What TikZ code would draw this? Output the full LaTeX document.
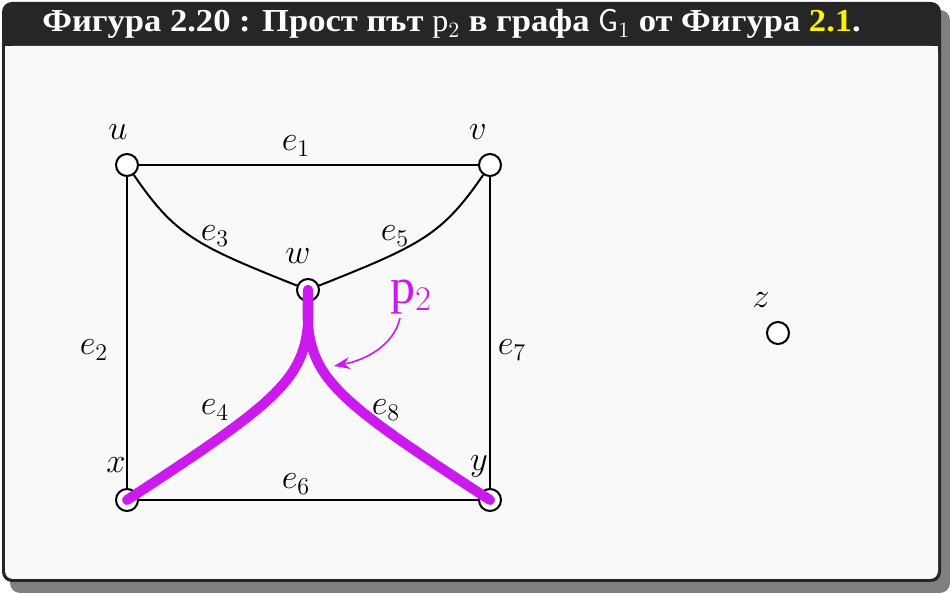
\documentclass[tikz,border=0pt]{standalone}
\usepackage{fontspec}
\setmainfont{Liberation Serif}
\newfontfamily\titlefont{Liberation Serif}[FakeStretch=1.08]
\usepackage{tikz}
\usetikzlibrary{arrows.meta,positioning,calc}
\definecolor{pathcol}{RGB}{204,26,238}
\definecolor{titlebg}{RGB}{38,38,38}
\definecolor{bodybg}{RGB}{249,249,249}
\definecolor{shadowcol}{RGB}{128,128,128}

\begin{document}
\begin{tikzpicture}[
    x=0.5pt, y=-0.5pt,
    vertex/.style={draw, circle, fill=white, line width=1pt, minimum size=11pt, inner sep=0pt},
    edge/.style={line width=1pt},
    pathedge/.style={line width=5pt, pathcol, line cap=round},
    vlabel/.style={font=\fontsize{18}{21}\selectfont},
    elabel/.style={font=\fontsize{17}{20}\selectfont}
]
    \useasboundingbox (0,0) rectangle (950,593);
    % frame with shadow
    \fill[shadowcol, rounded corners=5pt] (10,10) rectangle (950,593);
    \fill[titlebg, rounded corners=5pt] (2,2) rectangle (941,582);
    \fill[bodybg, rounded corners=4pt] (5,46) rectangle (938,579);
    \fill[bodybg] (5,46) rectangle (938,60);
    \node[anchor=base west, inner sep=0pt, text=white, font=\titlefont\bfseries\fontsize{16}{19}\selectfont] (title) at (42,32)
        {Фигура 2.20 : Прост път $\mathrm{p}_2$ в графа $\mathsf{G}_1$ от Фигура \textcolor{yellow}{2.1}.};

    % vertices
    \node[vertex] (u) at (127,165) {};
    \node[vertex] (v) at (490,165) {};
    \node[vertex] (w) at (308,290) {};
    \node[vertex] (x) at (127,500) {};
    \node[vertex] (y) at (490,500) {};
    \node[vertex] (z) at (778,333) {};

    \node[vlabel] (lu) at (118,132) {$u$};
    \node[vlabel] (lv) at (478,132) {$v$};
    \node[vlabel] (lw) at (298,256) {$w$};
    \node[vlabel] (lx) at (116,465) {$x$};
    \node[vlabel] (ly) at (479,466) {$y$};
    \node[vlabel] (lz) at (761,300) {$z$};

    % edges
    \draw[edge] (u) -- (v);
    \draw[edge] (u) -- (x);
    \draw[edge] (v) -- (y);
    \draw[edge] (x) -- (y);
    \draw[edge] (u) .. controls (175,235) and (195,245) .. (w);
    \draw[edge] (v) .. controls (442,235) and (421,245) .. (w);

    % the path p_2
    \draw[pathedge] (w.center) .. controls (312,375) and (295,390) .. (x.center);
    \draw[pathedge] (w.center) .. controls (304,375) and (321,390) .. (y.center);

    \node[elabel] (e1) at (296,146) {$e_1$};
    \node[elabel] (e2) at (94,350) {$e_2$};
    \node[elabel] (e3) at (215,236) {$e_3$};
    \node[elabel] (e4) at (215,410) {$e_4$};
    \node[elabel] (e5) at (395,236) {$e_5$};
    \node[elabel] (e6) at (296,484) {$e_6$};
    \node[elabel] (e7) at (512,350) {$e_7$};
    \node[elabel] (e8) at (386,410) {$e_8$};

    \node[text=pathcol, font=\fontsize{25}{30}\selectfont] (lp) at (411,297) {$\mathrm{p}_2$};
    \coordinate (pstart) at (400,318);
    \coordinate (ptip) at (334,366);
    \draw[pathcol, line width=0.8pt, -{Stealth[length=8pt,width=6pt]}] (pstart) .. controls (394,345) and (366,360) .. (ptip);
\end{tikzpicture}
\end{document}
